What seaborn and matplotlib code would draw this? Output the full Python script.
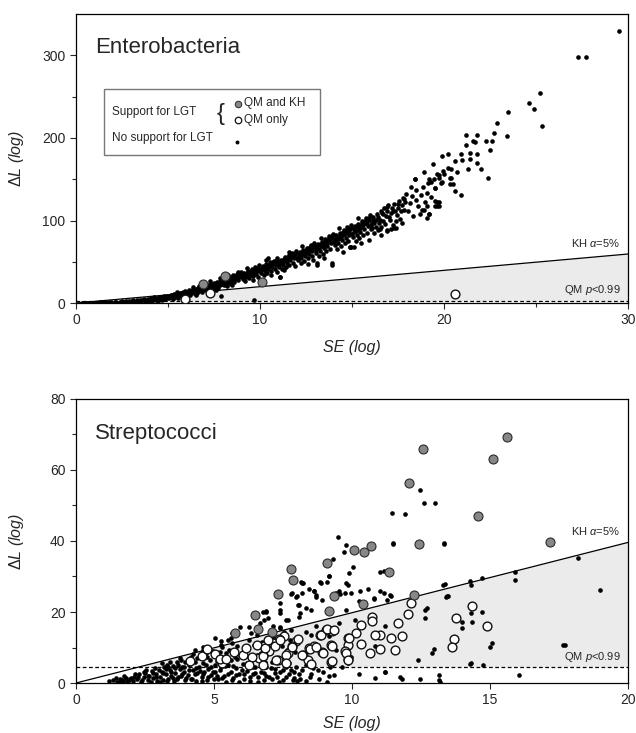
import numpy as np
import pandas as pd
import matplotlib
matplotlib.use('Agg')
import matplotlib.pyplot as plt
import seaborn as sns
from matplotlib.patches import Rectangle

# ---------------- Enterobacteria (SE, dL) ----------------
ent_none = [
    (0.3, 0.2), (0.5, 0.3), (0.7, 0.4), (0.9, 0.5), (0.6, 0.1), (0.4, 0.5),
    (1.1, 0.6), (1.3, 0.9), (1.5, 0.8), (1.6, 1.2), (1.8, 1.0), (1.9, 1.5), (1.2, 0.3), (1.7, 0.5),
    (2.1, 1.2), (2.2, 0.8), (2.4, 1.6), (2.5, 2.0), (2.6, 1.1), (2.7, 2.4), (2.8, 1.8), (2.9, 2.9),
    (2.3, 0.4), (2.95, 1.3),
    (3.05, 2.2), (3.1, 3.1), (3.2, 1.6), (3.3, 3.6), (3.4, 2.6), (3.5, 4.0), (3.55, 2.0), (3.6, 3.2),
    (3.7, 4.6), (3.75, 2.8), (3.8, 3.9), (3.9, 5.1), (3.95, 3.3), (3.45, 1.0), (3.85, 1.8),
    (4.05, 4.2), (4.1, 5.6), (4.15, 3.0), (4.2, 4.8), (4.3, 6.2), (4.35, 3.6), (4.4, 5.3), (4.5, 6.8),
    (4.55, 4.5), (4.6, 7.3), (4.65, 5.6), (4.7, 3.9), (4.75, 6.4), (4.8, 8.1), (4.85, 5.2), (4.9, 7.0),
    (4.95, 8.8), (4.45, 2.6), (4.25, 7.0),
    (4.12, 4.6), (4.28, 5.4), (4.48, 5.9), (4.62, 6.3), (4.78, 7.2), (4.92, 6.1),
    (5.05, 6.0), (5.1, 8.2), (5.15, 9.5), (5.2, 7.1), (5.25, 5.3), (5.3, 9.0), (5.35, 10.4), (5.4, 7.8),
    (5.45, 11.0), (5.5, 8.7), (5.55, 6.4), (5.6, 10.2), (5.65, 12.0), (5.7, 9.3), (5.75, 11.4),
    (5.8, 13.0), (5.85, 10.0), (5.9, 12.4), (5.95, 14.2), (5.5, 13.0), (5.8, 7.5),
    (5.02, 7.3), (5.12, 6.9), (5.22, 9.8), (5.32, 8.3), (5.42, 9.6), (5.52, 10.8), (5.62, 8.6),
    (5.72, 11.9), (5.82, 10.9), (5.92, 11.3),
    (6.05, 11.0), (6.1, 13.6), (6.15, 15.2), (6.2, 9.6), (6.25, 12.5), (6.3, 14.8), (6.35, 16.4),
    (6.4, 11.8), (6.45, 13.9), (6.5, 17.2), (6.55, 15.6), (6.6, 12.6), (6.65, 18.0), (6.7, 14.9),
    (6.75, 16.8), (6.8, 19.6), (6.85, 13.5), (6.9, 17.8), (6.95, 20.3), (6.5, 10.2), (6.7, 21.0), (6.35, 19.0),
    (6.02, 12.6), (6.12, 11.9), (6.22, 14.2), (6.32, 13.2), (6.42, 15.4), (6.52, 14.6), (6.62, 16.2),
    (6.72, 17.6), (6.82, 15.8), (6.92, 19.2), (6.97, 16.6),
    (7.05, 16.0), (7.1, 19.5), (7.15, 22.0), (7.2, 14.8), (7.25, 18.2), (7.3, 21.4), (7.35, 23.5),
    (7.4, 17.0), (7.45, 20.5), (7.5, 24.4), (7.55, 19.0), (7.6, 22.6), (7.65, 26.0), (7.7, 18.5),
    (7.75, 23.8), (7.8, 27.2), (7.85, 21.3), (7.9, 25.0), (7.95, 28.4), (7.3, 27.0), (7.6, 15.8), (7.85, 30.0),
    (7.02, 17.8), (7.12, 20.8), (7.22, 20.0), (7.32, 19.2), (7.42, 22.4), (7.52, 21.6), (7.62, 24.4),
    (7.72, 22.0), (7.82, 25.6), (7.92, 23.4),
    (8.05, 22.0), (8.1, 26.2), (8.15, 29.5), (8.2, 20.4), (8.25, 24.6), (8.3, 28.0), (8.35, 31.8),
    (8.4, 23.0), (8.45, 27.0), (8.5, 30.5), (8.55, 33.4), (8.6, 25.5), (8.65, 29.2), (8.7, 32.6),
    (8.75, 35.5), (8.8, 27.8), (8.85, 31.0), (8.9, 34.4), (8.95, 37.0), (8.5, 21.8), (8.8, 38.0), (8.25, 34.0),
    (8.02, 24.2), (8.12, 27.8), (8.22, 26.4), (8.32, 30.0), (8.42, 29.0), (8.52, 28.0), (8.62, 31.0),
    (8.72, 30.4), (8.82, 33.2), (8.92, 32.2),
    (9.05, 29.0), (9.1, 33.2), (9.15, 36.5), (9.2, 27.2), (9.25, 31.5), (9.3, 35.0), (9.35, 39.0),
    (9.4, 30.4), (9.45, 34.0), (9.5, 37.8), (9.55, 41.2), (9.6, 32.5), (9.65, 36.4), (9.7, 40.0),
    (9.75, 43.5), (9.8, 34.8), (9.85, 38.6), (9.9, 42.0), (9.95, 45.6), (9.3, 42.5), (9.6, 28.5), (9.9, 31.5),
    (9.02, 31.2), (9.12, 35.0), (9.22, 33.4), (9.32, 37.2), (9.42, 36.0), (9.52, 39.4), (9.62, 38.4),
    (9.72, 37.0), (9.82, 41.2), (9.92, 39.8),
    (10.05, 36.6), (10.1, 40.8), (10.15, 44.5), (10.2, 34.0), (10.25, 38.8), (10.3, 42.6), (10.35, 47.0),
    (10.4, 36.5), (10.45, 41.0), (10.5, 45.0), (10.55, 49.4), (10.6, 39.2), (10.65, 43.6), (10.7, 47.8),
    (10.75, 51.5), (10.8, 41.5), (10.85, 46.0), (10.9, 50.2), (10.95, 54.0), (10.3, 52.0), (10.6, 33.5),
    (10.9, 37.0), (10.45, 55.0),
    (10.02, 38.6), (10.12, 42.6), (10.22, 41.2), (10.32, 45.2), (10.42, 43.4), (10.52, 47.2),
    (10.62, 45.6), (10.72, 49.6), (10.82, 48.0), (10.92, 52.2),
    (11.05, 44.0), (11.1, 48.5), (11.15, 52.6), (11.2, 41.0), (11.25, 46.4), (11.3, 51.0), (11.35, 55.5),
    (11.4, 43.8), (11.45, 49.0), (11.5, 53.5), (11.55, 58.0), (11.6, 46.2), (11.65, 51.8), (11.7, 56.4),
    (11.75, 60.8), (11.8, 49.0), (11.85, 54.4), (11.9, 59.0), (11.95, 63.5), (11.3, 40.0), (11.6, 62.0),
    (11.9, 44.5), (11.1, 32.0),
    (11.02, 46.2), (11.12, 50.6), (11.22, 49.0), (11.32, 53.4), (11.42, 51.8), (11.52, 56.0),
    (11.62, 54.2), (11.72, 58.6), (11.82, 57.0), (11.92, 61.2),
    (12.05, 52.0), (12.1, 57.0), (12.15, 61.5), (12.2, 48.6), (12.25, 54.6), (12.3, 59.6), (12.35, 64.5),
    (12.4, 51.4), (12.45, 57.4), (12.5, 62.4), (12.55, 67.2), (12.6, 54.0), (12.65, 60.0), (12.7, 65.4),
    (12.75, 70.2), (12.8, 57.0), (12.85, 63.0), (12.9, 68.4), (12.95, 73.0), (12.3, 69.0), (12.6, 47.5), (12.9, 52.0),
    (12.02, 55.0), (12.12, 59.4), (12.22, 57.6), (12.32, 62.0), (12.42, 60.0), (12.52, 64.8),
    (12.62, 63.0), (12.72, 67.8), (12.82, 66.0), (12.92, 70.6),
    (13.05, 61.0), (13.1, 66.5), (13.15, 71.5), (13.2, 57.0), (13.25, 63.4), (13.3, 69.0), (13.35, 74.4),
    (13.4, 60.0), (13.45, 66.4), (13.5, 72.0), (13.55, 77.6), (13.6, 63.2), (13.65, 69.6), (13.7, 75.4),
    (13.75, 81.0), (13.8, 66.0), (13.85, 72.6), (13.9, 78.4), (13.95, 84.0), (13.1, 49.0), (13.5, 55.0),
    (13.9, 46.0), (13.3, 79.0),
    (13.02, 64.0), (13.12, 68.8), (13.22, 66.4), (13.32, 71.6), (13.42, 69.6), (13.52, 74.8),
    (13.62, 72.6), (13.72, 78.0), (13.82, 75.6), (13.92, 81.0),
    (14.05, 70.5), (14.1, 76.4), (14.15, 82.0), (14.2, 66.0), (14.25, 73.0), (14.3, 79.0), (14.35, 85.0),
    (14.4, 69.4), (14.45, 76.0), (14.5, 82.4), (14.55, 88.4), (14.6, 72.6), (14.65, 79.4), (14.7, 86.0),
    (14.75, 92.0), (14.8, 75.6), (14.85, 82.8), (14.9, 89.4), (14.95, 95.0), (14.9, 68.0), (14.5, 62.0),
    (14.3, 91.0), (14.96, 67.5),
    (14.02, 74.0), (14.12, 79.4), (14.22, 77.0), (14.32, 82.4), (14.42, 80.0), (14.52, 85.6),
    (14.62, 83.4), (14.72, 89.0), (14.82, 86.6), (14.92, 92.0),
    (15.05, 80.0), (15.1, 86.6), (15.15, 93.0), (15.2, 75.0), (15.25, 83.0), (15.3, 89.6), (15.35, 96.0),
    (15.4, 78.6), (15.45, 86.4), (15.5, 93.0), (15.55, 99.5), (15.6, 82.0), (15.65, 89.6), (15.7, 96.6),
    (15.75, 103.0), (15.8, 85.4), (15.85, 93.0), (15.9, 100.4), (15.95, 107.0), (15.5, 73.0), (15.9, 76.0),
    (15.3, 103.0),
    (15.02, 84.0), (15.12, 90.0), (15.22, 87.0), (15.32, 93.0), (15.42, 90.6), (15.52, 96.4),
    (15.62, 94.0), (15.72, 100.0), (15.82, 97.0), (15.92, 103.6),
    (16.05, 90.0), (16.1, 97.0), (16.15, 104.0), (16.2, 84.6), (16.3, 100.6), (16.35, 108.0), (16.4, 88.4),
    (16.45, 96.4), (16.55, 111.0), (16.6, 92.0), (16.7, 107.4), (16.75, 114.6), (16.8, 95.6), (16.9, 112.0),
    (16.95, 119.0), (16.6, 83.0), (16.9, 87.5), (16.3, 92.0), (16.7, 100.0),
    (16.02, 94.0), (16.12, 100.4), (16.22, 97.4), (16.42, 104.0), (16.52, 101.0), (16.62, 108.6),
    (16.82, 105.0), (16.92, 116.0),
    (17.05, 100.6), (17.1, 108.6), (17.2, 94.6), (17.25, 112.0), (17.3, 120.0), (17.4, 99.0), (17.45, 106.8),
    (17.55, 124.0), (17.6, 102.4), (17.7, 118.6), (17.75, 127.0), (17.85, 112.8), (17.9, 123.0),
    (17.95, 131.6), (17.3, 90.5), (17.7, 96.5), (17.5, 115.0),
    (17.02, 104.0), (17.15, 115.0), (17.35, 111.0), (17.5, 120.0), (17.65, 112.0), (17.8, 126.0),
    (18.05, 112.0), (18.15, 121.0), (18.25, 130.0), (18.3, 106.0), (18.45, 125.4), (18.5, 136.6),
    (18.6, 117.0), (18.75, 131.0), (18.85, 141.0), (18.95, 123.0), (18.4, 150.0), (18.2, 140.5),
    (18.7, 108.0), (18.9, 113.0),
    (19.05, 133.0), (19.15, 145.0), (19.3, 128.0), (19.45, 150.0), (19.5, 139.0), (19.7, 155.0),
    (19.85, 146.0), (19.95, 160.0), (19.1, 118.0), (19.2, 108.0), (19.6, 123.0), (19.5, 117.0),
    # sparse upper tail
    (29.5, 330), (27.3, 298), (27.7, 298), (25.2, 255), (24.6, 243), (24.9, 235), (25.3, 215),
    (23.5, 231), (22.9, 218), (22.7, 206), (23.4, 203), (21.2, 204), (21.2, 192), (21.7, 195),
    (22.3, 196), (22.5, 186), (20.9, 181), (21.4, 182), (21.8, 180), (19.9, 178), (20.2, 180),
    (20.6, 172), (21.0, 173), (21.4, 175), (19.4, 169), (20.2, 164), (20.4, 163), (20.7, 159),
    (21.3, 162), (22.0, 162), (22.4, 151), (18.9, 159), (19.6, 156), (19.7, 151), (20.3, 152),
    (20.4, 151), (18.4, 150), (19.2, 150), (19.3, 147), (19.9, 147), (20.3, 144), (20.6, 136),
    (20.9, 131), (19.5, 140), (19.7, 118), (19.2, 108), (19.1, 103), (19.6, 117), (18.8, 113),
    (17.4, 91), (17.1, 90), (16.9, 89), (16.5, 90), (16.1, 91), (20.5, 144), (19.7, 123), (19.5, 124),
    (21.8, 204), (21.6, 196), (21.8, 170), (20.0, 156), (22.6, 196),
    # outliers below the band
    (13.9, 49), (13.1, 46), (11.1, 32), (14.9, 68), (15.1, 68), (9.7, 4), (7.9, 8.5),
]
ent_qm_kh = [(6.9, 23), (8.1, 33), (10.1, 25.5)]
ent_qm_only = [(5.9, 4.5), (7.3, 12.5), (20.6, 11)]

# ---------------- Streptococci (SE, dL) ----------------
str_none = [
    (1.2, 0.5), (1.35, 0.8), (1.5, 0.4), (1.6, 1.2), (1.7, 0.7), (1.8, 1.5), (1.9, 0.3), (1.95, 1.0), (1.45, 1.5),
    (2.05, 0.6), (2.1, 1.8), (2.2, 1.1), (2.3, 2.4), (2.35, 0.4), (2.45, 1.6), (2.5, 2.9), (2.6, 0.9),
    (2.65, 2.1), (2.75, 3.4), (2.8, 1.3), (2.9, 2.6), (2.95, 0.5), (2.55, 3.8), (2.85, 4.2),
    (3.05, 1.7), (3.1, 3.2), (3.15, 0.8), (3.2, 4.4), (3.25, 2.4), (3.3, 5.2), (3.35, 1.2), (3.4, 3.6),
    (3.45, 2.0), (3.5, 4.8), (3.55, 0.5), (3.6, 2.9), (3.65, 5.8), (3.7, 1.6), (3.75, 3.9), (3.8, 6.4),
    (3.85, 2.4), (3.9, 4.6), (3.95, 0.9), (3.4, 6.0), (3.75, 7.0), (3.1, 5.6),
    (4.05, 2.2), (4.1, 5.0), (4.15, 7.4), (4.2, 1.2), (4.25, 3.6), (4.3, 6.0), (4.35, 0.5), (4.4, 2.8),
    (4.45, 4.6), (4.5, 7.8), (4.55, 1.8), (4.6, 5.5), (4.65, 3.2), (4.7, 8.4), (4.75, 0.8), (4.8, 4.0),
    (4.85, 6.6), (4.9, 2.2), (4.95, 9.0), (4.25, 8.2), (4.6, 9.3), (4.05, 6.4),
    (5.05, 3.0), (5.1, 6.2), (5.15, 1.0), (5.2, 8.6), (5.25, 4.4), (5.3, 10.2), (5.35, 2.0), (5.4, 6.8),
    (5.45, 0.4), (5.5, 5.0), (5.55, 9.4), (5.6, 3.2), (5.65, 11.2), (5.7, 1.4), (5.75, 7.4), (5.8, 4.2),
    (5.85, 10.4), (5.9, 2.6), (5.95, 8.0), (5.25, 11.8), (5.6, 12.6),
    (6.05, 5.4), (6.1, 1.2), (6.15, 9.0), (6.2, 3.4), (6.25, 12.0), (6.3, 0.5), (6.35, 6.6), (6.4, 2.4),
    (6.45, 10.6), (6.5, 4.4), (6.55, 13.4), (6.6, 1.6), (6.65, 8.2), (6.7, 3.0), (6.75, 11.6), (6.8, 0.8),
    (6.85, 6.0), (6.9, 2.0), (6.95, 9.8), (6.35, 14.2), (6.2, 7.6),
    (7.05, 4.2), (7.1, 1.0), (7.15, 12.6), (7.2, 2.8), (7.3, 7.0), (7.35, 0.4), (7.45, 10.4), (7.5, 3.6),
    (7.55, 14.4), (7.6, 1.8), (7.7, 5.6), (7.75, 12.0), (7.85, 0.8), (7.9, 3.0), (7.95, 8.8), (7.4, 15.6),
    (7.65, 9.2),
    (8.1, 1.2), (8.2, 3.6), (8.35, 0.5), (8.5, 2.4), (8.6, 4.2), (8.8, 1.0), (8.95, 3.0), (9.1, 0.4), (9.35, 2.2),
    # more of the dense low cloud
    (1.55, 0.2), (1.65, 0.9), (1.75, 1.9), (1.85, 0.6), (2.0, 1.4), (2.15, 2.6), (2.25, 1.7), (2.4, 0.9),
    (2.45, 3.0), (2.6, 1.9), (2.7, 0.3), (2.8, 2.9), (2.9, 1.7), (3.0, 3.8), (3.05, 0.4), (3.15, 2.8),
    (3.25, 3.9), (3.3, 0.6), (3.35, 4.6), (3.45, 3.0), (3.5, 1.4), (3.6, 4.2), (3.65, 1.0), (3.7, 5.2),
    (3.8, 2.0), (3.85, 4.4), (3.9, 3.0), (3.95, 6.0), (4.0, 1.5), (4.1, 3.6), (4.15, 1.0), (4.2, 6.6),
    (4.3, 2.4), (4.35, 4.2), (4.4, 7.0), (4.5, 3.4), (4.55, 0.6), (4.6, 2.4), (4.7, 5.0), (4.75, 7.2),
    (4.8, 1.6), (4.9, 4.6), (4.95, 3.2), (5.0, 1.0), (5.05, 5.2), (5.1, 2.0), (5.2, 3.6), (5.25, 7.2),
    (5.3, 1.4), (5.4, 4.8), (5.45, 8.4), (5.5, 2.4), (5.6, 6.4), (5.65, 0.8), (5.7, 4.8), (5.8, 2.2),
    (5.85, 6.8), (5.9, 0.4), (6.0, 3.8), (6.05, 8.4), (6.1, 2.4), (6.2, 5.6), (6.3, 1.6), (6.4, 4.4),
    (6.5, 2.8), (6.55, 7.8), (6.6, 0.4), (6.7, 5.4), (6.8, 2.8), (6.9, 4.6), (7.0, 1.8), (7.1, 6.0),
    (7.2, 4.0), (7.3, 1.6), (7.4, 3.0), (7.5, 0.8), (7.6, 4.6), (7.7, 2.4), (7.8, 3.8), (7.9, 1.4), (8.0, 0.5),
    # around and above the KH line
    (6.89, 20.0), (6.67, 16.9), (6.26, 15.9), (6.96, 18.3), (7.62, 17.8), (7.4, 20.7), (7.84, 25.4),
    (8.06, 22.1), (8.13, 19.7), (8.2, 28.1), (8.43, 26.4), (7.4, 15.9), (5.93, 15.9), (5.64, 14.0),
    (5.49, 12.1), (5.27, 10.7), (5.05, 12.6), (4.61, 10.2), (4.32, 9.3),
    (12.45, 54.5), (12.6, 50.8), (13.0, 50.6), (11.44, 48.0), (11.91, 47.7), (11.48, 39.3), (13.32, 39.3),
    (9.49, 41.0), (9.78, 39.0), (9.71, 36.8), (9.31, 35.0), (10.03, 32.8), (9.9, 31.1), (11.0, 31.4),
    (11.15, 31.6), (9.17, 30.2), (8.16, 28.5), (8.84, 28.5), (9.1, 28.5), (9.78, 28.2), (7.8, 25.1),
    (7.98, 24.3), (8.2, 25.4), (8.63, 26.0), (8.7, 24.3), (9.42, 25.4), (9.57, 25.1), (9.86, 27.7),
    (9.96, 25.4), (10.3, 26.0), (10.58, 26.6), (11.0, 26.0), (11.15, 25.4), (11.4, 24.6), (10.8, 24.0),
    (8.87, 28.2), (8.63, 25.8), (8.69, 24.7), (8.21, 28.2), (8.0, 24.6), (8.33, 21.1), (8.51, 20.6),
    (9.53, 25.8), (9.75, 25.3), (10.25, 23.0), (10.78, 23.7), (11.25, 23.4), (11.37, 24.9), (9.77, 20.5),
    (8.91, 23.5), (7.39, 22.4), (6.79, 20.1), (8.09, 22.0), (9.17, 30.0), (11.49, 39.1), (13.35, 39.1),
    # shaded region and right side
    (13.3, 27.7), (14.3, 27.7), (14.7, 29.7), (15.9, 31.4), (15.9, 29.1), (18.2, 35.3), (19.0, 26.3),
    (13.4, 24.3), (12.66, 20.6), (12.66, 18.2), (13.45, 24.4), (14.3, 19.7), (14.0, 15.4), (15.0, 10.2),
    (12.9, 8.5), (14.27, 5.3), (13.2, 0.4), (11.72, 1.8), (10.83, 1.3), (10.25, 2.5), (11.2, 3.2),
    (11.2, 16.1), (10.85, 10.3), (9.87, 5.5), (9.63, 4.6), (9.2, 4.6), (9.15, 1.9), (8.75, 3.6),
    (8.09, 2.5), (7.97, 4.6), (8.35, 5.0), (8.47, 1.7), (8.95, 7.9), (9.43, 9.3), (9.98, 7.4),
    (10.1, 17.8), (9.53, 16.8), (9.17, 13.1), (8.69, 16.1), (8.33, 14.5), (8.09, 18.7), (7.67, 17.8),
    (7.39, 19.7), (6.88, 20.4), (6.8, 17.8), (7.15, 16.1), (7.79, 15.0), (8.51, 13.5),
    (17.65, 10.7), (16.06, 2.3), (17.7, 10.7), (14.7, 19.9), (14.73, 5.2), (15.06, 11.2), (14.0, 17.3),
    (12.97, 9.5), (13.16, 2.3), (13.16, 0.8), (12.38, 6.6), (12.45, 1.2), (11.8, 1.2), (11.2, 3.0),
    (12.7, 21.1), (14.26, 28.7), (13.38, 27.8), (13.48, 24.5), (14.36, 17.2), (14.31, 5.5),
]
str_qm_kh = [
    (15.6, 69.3), (12.56, 65.9), (15.1, 63.1), (12.07, 56.2), (14.58, 47.1), (17.19, 39.8), (12.41, 39.2),
    (10.7, 38.7), (10.08, 37.5), (10.43, 37.0), (9.1, 33.9), (7.78, 32.0), (11.33, 31.4), (7.86, 29.0),
    (7.31, 25.1), (9.34, 24.5), (12.26, 24.9), (10.39, 22.2), (9.16, 20.2), (6.49, 19.1), (6.6, 15.3),
    (5.76, 14.0), (7.1, 14.5),
]
str_qm_only = [
    (12.12, 22.5), (12.03, 19.5), (11.67, 17.0), (14.34, 21.8), (14.9, 16.1), (13.75, 18.4), (13.68, 12.4),
    (13.62, 10.1), (11.82, 13.1), (11.43, 12.6), (11.54, 9.3), (11.01, 13.5), (10.85, 13.5), (10.71, 18.7),
    (10.73, 17.6), (10.33, 16.4), (10.16, 14.0), (10.31, 11.0), (9.87, 12.6), (9.87, 10.7), (9.75, 9.1),
    (9.87, 6.7), (10.65, 8.4), (11.0, 9.7), (9.29, 14.7), (9.05, 15.0), (8.83, 13.4), (9.23, 10.7),
    (8.91, 8.8), (8.45, 9.8), (8.63, 10.3), (8.21, 7.9), (8.42, 6.5), (9.23, 6.0), (7.97, 11.9),
    (7.82, 10.5), (7.52, 13.1), (7.37, 12.3), (7.13, 11.4), (7.0, 8.9), (6.82, 10.3), (6.79, 7.9),
    (7.67, 8.4), (7.31, 6.5), (6.64, 7.0),
    (4.12, 6.2), (4.57, 7.6), (4.76, 9.5), (5.04, 8.3), (5.3, 5.5), (5.2, 6.9), (5.71, 8.8), (6.05, 7.9),
    (6.17, 10.0), (6.37, 7.2), (6.56, 10.7), (6.77, 7.6), (6.84, 10.0), (6.96, 12.1), (7.22, 10.4),
    (7.4, 12.1), (7.62, 7.9), (7.84, 10.2), (8.06, 12.3), (8.2, 7.9), (8.48, 9.5), (8.69, 10.2),
    (8.86, 13.6), (9.08, 15.2), (9.33, 14.8), (9.27, 10.4), (8.94, 8.5), (8.5, 5.3), (9.27, 6.1),
    (9.77, 8.5), (9.89, 12.6), (9.86, 6.4), (6.26, 5.2), (5.42, 6.8), (6.77, 5.0), (7.25, 6.4), (7.62, 5.5),
]

# thresholds and axis settings
kh_slope = 1.98            # KH alpha=5% line: dL = slope * SE
qm_cut = {'ent': 2.5, 'str': 4.6}
se_max = {'ent': 30, 'str': 20}
dl_max = {'ent': 350, 'str': 80}

sns.set_style('ticks')
plt.rcParams['font.family'] = ['Liberation Sans', 'DejaVu Sans']
plt.rcParams['mathtext.fontset'] = 'custom'
plt.rcParams['mathtext.it'] = 'Liberation Sans:italic'
plt.rcParams['mathtext.rm'] = 'Liberation Sans'

fig = plt.figure(figsize=(6.36, 7.33), dpi=100)
ax_top = fig.add_axes([0.1195, 0.5866, 0.868, 0.394])
ax_bot = fig.add_axes([0.1195, 0.0682, 0.868, 0.3875])


def draw_panel(ax, key, none, qm_kh, qm_only, title, kh_y, qm_y):
    xmax = se_max[key]
    qm = qm_cut[key]
    grid = np.linspace(0, xmax, 400)
    kh = kh_slope * grid
    ax.fill_between(grid, qm, np.maximum(kh, qm), color='#ebebeb', lw=0, zorder=0)
    sns.lineplot(x=[0, xmax], y=[0, kh_slope * xmax], ax=ax, color='black', lw=0.9, zorder=1)
    ax.axhline(qm, color='black', lw=0.9, ls=(0, (3, 2)), zorder=1)

    d_none = pd.DataFrame(none, columns=['se', 'dl'])
    d_kh = pd.DataFrame(qm_kh, columns=['se', 'dl'])
    d_qm = pd.DataFrame(qm_only, columns=['se', 'dl'])
    sns.scatterplot(data=d_none, x='se', y='dl', ax=ax, color='black', s=11, linewidth=0, zorder=3)
    sns.scatterplot(data=d_qm, x='se', y='dl', ax=ax, color='white', edgecolor='#111111',
                    s=40, linewidth=1.0, zorder=4)
    sns.scatterplot(data=d_kh, x='se', y='dl', ax=ax, color='#878787', edgecolor='#2a2a2a',
                    s=42, linewidth=0.8, zorder=5)

    ax.set_xlim(0, xmax)
    ax.set_ylim(0, dl_max[key])
    ax.text(0.034, title[1], title[0], transform=ax.transAxes, fontsize=16, va='center', ha='left')
    ax.text(0.986, kh_y, r'KH $\alpha$=5%', transform=ax.transAxes, fontsize=8, ha='right', va='center')
    ax.text(0.986, qm_y, r'QM $p$<0.99', transform=ax.transAxes, fontsize=8, ha='right', va='center')

    ax.set_xlabel('SE (log)', fontsize=11.5, style='italic')
    ax.set_ylabel(r'$\Delta L$ (log)', fontsize=11.5, style='italic')
    ax.tick_params(labelsize=10, length=4, width=0.8, direction='out')
    ax.tick_params(which='minor', length=3, width=0.8, direction='out')
    for sp in ax.spines.values():
        sp.set_linewidth(0.9)
        sp.set_color('black')


draw_panel(ax_top, 'ent', ent_none, ent_qm_kh, ent_qm_only, ('Enterobacteria', 0.886), 0.208, 0.045)
ax_top.set_xticks([0, 10, 20, 30])
ax_top.set_xticks([5, 15, 25], minor=True)
ax_top.set_yticks([0, 100, 200, 300])
ax_top.set_yticks([50, 150, 250], minor=True)
ax_top.xaxis.set_label_coords(0.5, -0.128)
ax_top.yaxis.set_label_coords(-0.09, 0.5)

draw_panel(ax_bot, 'str', str_none, str_qm_kh, str_qm_only, ('Streptococci', 0.880), 0.535, 0.092)
ax_bot.set_xticks([0, 5, 10, 15, 20])
ax_bot.set_yticks([0, 20, 40, 60, 80])
ax_bot.set_yticks([10, 30, 50, 70], minor=True)
ax_bot.xaxis.set_label_coords(0.5, -0.116)
ax_bot.yaxis.set_label_coords(-0.09, 0.5)

# hand-made legend box in the top panel
ax = ax_top
ax.add_patch(Rectangle((0.051, 0.512), 0.391, 0.228, transform=ax.transAxes, fill=False,
                       edgecolor='#777777', lw=1.0, zorder=6))
ax.text(0.065, 0.661, 'Support for LGT', transform=ax.transAxes, fontsize=8.5, va='center', zorder=7)
ax.text(0.065, 0.571, 'No support for LGT', transform=ax.transAxes, fontsize=8.5, va='center', zorder=7)
ax.text(0.262, 0.655, '{', transform=ax.transAxes, fontsize=17, va='center', ha='center',
        fontweight='light', zorder=7)
ax.scatter([0.293], [0.689], transform=ax.transAxes, s=22, color='#878787', edgecolor='#2a2a2a',
           linewidth=0.7, zorder=7)
ax.scatter([0.293], [0.633], transform=ax.transAxes, s=22, color='white', edgecolor='#111111',
           linewidth=0.9, zorder=7)
ax.scatter([0.292], [0.557], transform=ax.transAxes, s=8, color='black', linewidth=0, zorder=7)
ax.text(0.305, 0.692, 'QM and KH', transform=ax.transAxes, fontsize=8.5, va='center', zorder=7)
ax.text(0.305, 0.633, 'QM only', transform=ax.transAxes, fontsize=8.5, va='center', zorder=7)

fig.savefig('out.png', dpi=100)
